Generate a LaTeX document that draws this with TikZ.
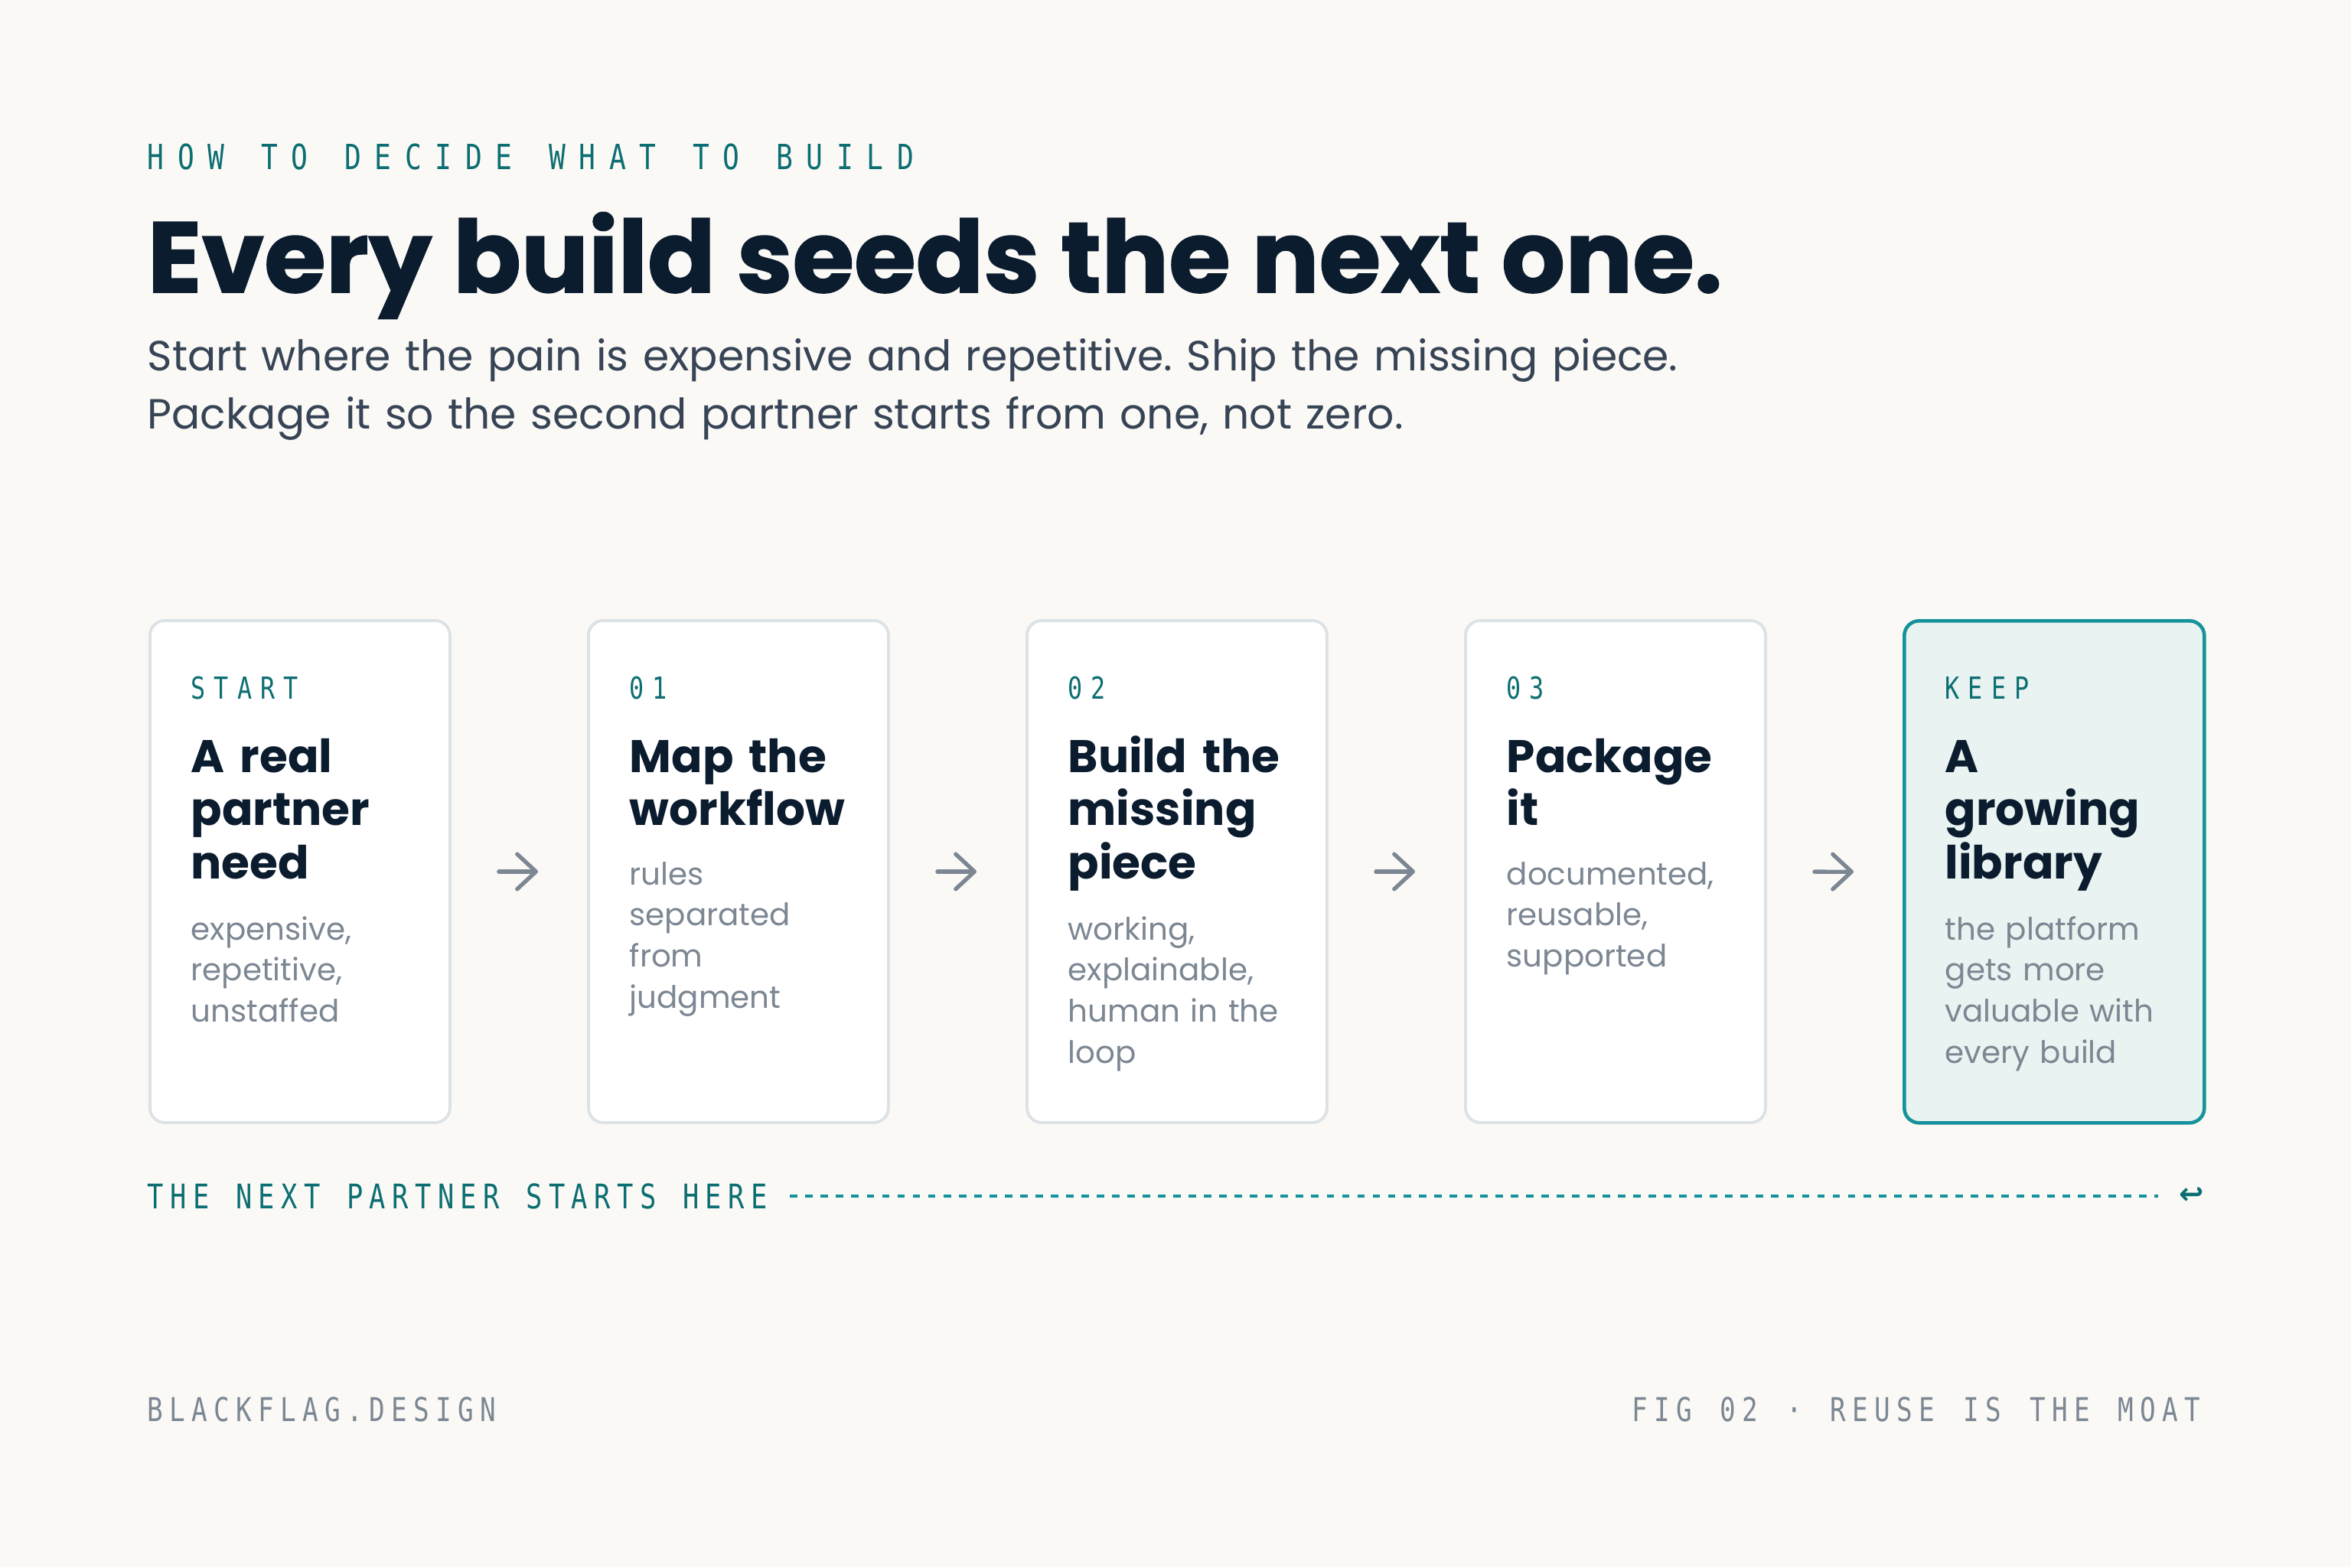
\documentclass[tikz,border=0pt]{standalone}
\usepackage{fontspec}
\setmainfont{Poppins}
\newfontfamily\monofont[FakeStretch=0.8]{DejaVu Sans Mono}
\newfontfamily\symfont{DejaVu Sans}
\usetikzlibrary{arrows.meta, positioning}
\definecolor{paper}{HTML}{FAF9F6}
\definecolor{tealink}{HTML}{0D6E72}
\definecolor{tealline}{HTML}{15929B}
\definecolor{navyink}{HTML}{0B1C2F}
\definecolor{slateink}{HTML}{374455}
\definecolor{mutedgray}{HTML}{7C8793}
\definecolor{cardline}{HTML}{DCE2E5}
\definecolor{keepfill}{HTML}{E9F3F1}
\frenchspacing
% mono text with tracking: size, tracking, word gap (\wsp)
\newcommand{\trackedmono}[3]{\monofont\fontsize{#1}{#1}\selectfont\addfontfeature{LetterSpace=#2}\def\wsp{\hspace{#3em}}}

\begin{document}
\begin{tikzpicture}[
  monolabel/.style={anchor=base west, inner sep=0pt, text=tealink, font={\trackedmono{11.3}{28}{0.762}}},
  card/.style={draw=cardline, fill=white, line width=1.1pt, rounded corners=5.5pt, anchor=north west, inner sep=0pt, minimum width=3.92cm, minimum height=6.56cm},
  cardtitle/.style={anchor=base west, inner sep=0pt, text=navyink, text width=4cm, align=left, font=\bfseries\fontsize{17}{19.9}\selectfont},
  cardbody/.style={anchor=base west, inner sep=0pt, text=mutedgray, text width=4cm, align=left, font=\fontsize{11.5}{15.3}\selectfont},
  flow/.style={draw=mutedgray, line width=1.5pt, line cap=round, -{Straight Barb[length=7pt, width=13pt, round]}, shorten <=0.62cm, shorten >=0.64cm}
]
  \fill[paper] (0,0) rectangle (30.72,-20.48);
  \useasboundingbox (0,0) rectangle (30.72,-20.48);

  % Header
  \node[anchor=base west, inner sep=0pt, text=tealink, font={\trackedmono{12.9}{39}{1.05}}] (kicker) at (1.92,-2.21) {HOW\wsp TO\wsp DECIDE\wsp WHAT\wsp TO\wsp BUILD};
  \node[anchor=base west, inner sep=0pt, text=navyink, font=\bfseries\fontsize{37.2}{40}\selectfont\addfontfeature{FakeBold=1.2}] (headline) at (1.92,-3.82) {Every build seeds the next one.};
  \node[anchor=base west, inner sep=0pt, text=slateink, text width=26cm, align=left, font=\fontsize{15.7}{21.7}\selectfont] (lede) at (1.92,-4.84) {Start where the pain is expensive and repetitive. Ship the missing piece.\\Package it so the second partner starts from one, not zero.};

  % Cards
  \node[card] (c1) at (1.94,-8.09) {};
  \node[card] (c2) at (7.67,-8.09) {};
  \node[card] (c3) at (13.40,-8.09) {};
  \node[card] (c4) at (19.13,-8.09) {};
  \node[card, draw=tealline, fill=keepfill, line width=1.3pt] (c5) at (24.86,-8.09) {};

  \node[monolabel] (l1) at (2.49,-9.13) {START};
  \node[cardtitle] (t1) at (2.49,-10.09) {A real\\partner\\need};
  \node[cardbody] (b1) at (2.49,-12.28) {expensive,\\repetitive,\\unstaffed};

  \node[monolabel] (l2) at (8.22,-9.13) {01};
  \node[cardtitle] (t2) at (8.22,-10.09) {Map the\\workflow};
  \node[cardbody] (b2) at (8.22,-11.56) {rules\\separated\\from\\judgment};

  \node[monolabel] (l3) at (13.95,-9.13) {02};
  \node[cardtitle] (t3) at (13.95,-10.09) {Build the\\missing\\piece};
  \node[cardbody] (b3) at (13.95,-12.28) {working,\\explainable,\\human in the\\loop};

  \node[monolabel] (l4) at (19.68,-9.13) {03};
  \node[cardtitle] (t4) at (19.68,-10.09) {Package\\it};
  \node[cardbody] (b4) at (19.68,-11.56) {documented,\\reusable,\\supported};

  \node[monolabel] (l5) at (25.41,-9.13) {KEEP};
  \node[cardtitle] (t5) at (25.41,-10.09) {A\\growing\\library};
  \node[cardbody] (b5) at (25.41,-12.28) {the platform\\gets more\\valuable with\\every build};

  \draw[flow] (c1) -- (c2);
  \draw[flow] (c2) -- (c3);
  \draw[flow] (c3) -- (c4);
  \draw[flow] (c4) -- (c5);

  % Loop back
  \node[anchor=base west, inner sep=0pt, text=tealink, font={\trackedmono{12.6}{19}{0.78}}] (next) at (1.92,-15.79) {THE\wsp NEXT\wsp PARTNER\wsp STARTS\wsp HERE};
  \node[inner sep=0pt, text=tealink, font=\symfont\bfseries\fontsize{11}{12}\selectfont] (ret) at (28.64,-15.63) {↩};
  \draw[tealline, line width=1.1pt, dash pattern=on 2.8pt off 2.9pt, shorten <=0.29cm, shorten >=0.27cm] (next.east) -- (next.east -| ret.west);

  % Footer
  \node[anchor=base west, inner sep=0pt, text=mutedgray, font={\trackedmono{12.2}{19.5}{0.682}}] (brand) at (1.92,-18.57) {BLACKFLAG.DESIGN};
  \node[anchor=base east, inner sep=0pt, text=mutedgray, font={\trackedmono{12.2}{19.5}{0.86}}] (fig) at (28.76,-18.57) {FIG\wsp 02\wsp ·\wsp REUSE\wsp IS\wsp THE\wsp MOAT};
\end{tikzpicture}
\end{document}
